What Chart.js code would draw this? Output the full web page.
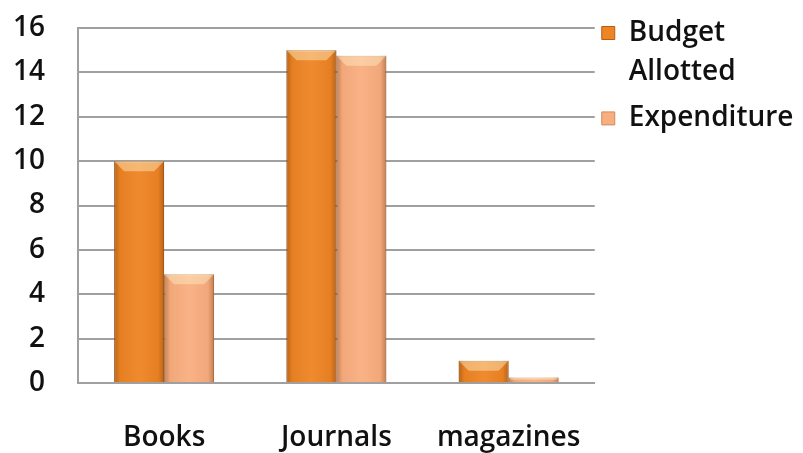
<!DOCTYPE html>
<html>
<head>
<meta charset="utf-8">
<script src="https://cdn.jsdelivr.net/npm/chart.js@4.4.1/dist/chart.umd.min.js"></script>
<style>
  html, body { margin: 0; padding: 0; background: #fff; }
  #wrap { width: 803px; height: 453px; }
</style>
</head>
<body>
<div id="wrap"><canvas id="budgetChart" width="803" height="453"></canvas></div>
<script>
// values
const categories = ["Books", "Journals", "magazines"];
const budgetAllotted = [10, 15, 1];
const expenditure = [4.9, 14.75, 0.25];
const yTicks = [0, 2, 4, 6, 8, 10, 12, 14, 16];

const FONT = "'Open Sans', Lato, sans-serif";
const textFont = { family: FONT, size: 28, weight: "600" };

// gives the bars a bevelled look, drawn on top of each bar element
const bevelPlugin = {
  id: "bevel",
  afterDatasetsDraw(chart) {
    const ctx = chart.ctx;
    chart.data.datasets.forEach((ds, i) => {
      const meta = chart.getDatasetMeta(i);
      meta.data.forEach((bar) => {
        const left = bar.x - bar.width / 2;
        const w = bar.width;
        const top = bar.y;
        const h = bar.base - bar.y;
        if (h <= 0) return;
        ctx.save();
        const g = ctx.createLinearGradient(left, 0, left + w, 0);
        g.addColorStop(0, "rgba(90,40,0,0.35)");
        g.addColorStop(0.12, "rgba(90,40,0,0.05)");
        g.addColorStop(0.5, "rgba(255,255,255,0.05)");
        g.addColorStop(0.88, "rgba(90,40,0,0.05)");
        g.addColorStop(1, "rgba(90,40,0,0.35)");
        ctx.fillStyle = g;
        ctx.fillRect(left, top, w, h);
        // light trapezoid on the top face
        const bev = Math.min(10, h / 2);
        ctx.beginPath();
        ctx.moveTo(left, top);
        ctx.lineTo(left + w, top);
        ctx.lineTo(left + w - bev, top + bev);
        ctx.lineTo(left + bev, top + bev);
        ctx.closePath();
        ctx.fillStyle = "rgba(255,240,200,0.45)";
        ctx.fill();
        ctx.restore();
      });
    });
  },
};

const ctx = document.getElementById("budgetChart").getContext("2d");
new Chart(ctx, {
  type: "bar",
  data: {
    labels: categories,
    datasets: [
      {
        label: ["Budget", "Allotted"],
        data: budgetAllotted,
        backgroundColor: "#ee8424",
        borderColor: "#b45e18",
        borderWidth: 1,
      },
      {
        label: "Expenditure",
        data: expenditure,
        backgroundColor: "#f9ae80",
        borderColor: "#cf8a60",
        borderWidth: 1,
      },
    ],
  },
  options: {
    responsive: false,
    animation: false,
    layout: { padding: { left: 0, top: 12, right: 10, bottom: 0 } },
    datasets: {
      bar: { categoryPercentage: 0.58, barPercentage: 1.0 },
    },
    plugins: {
      legend: {
        position: "right",
        align: "start",
        labels: {
          font: { ...textFont, lineHeight: 1.4 },
          color: "#111",
          boxWidth: 13,
          boxHeight: 13,
          padding: 7,
        },
      },
      tooltip: { enabled: false },
    },
    scales: {
      x: {
        grid: { display: false },
        border: { display: true, color: "#a0a0a0", width: 2 },
        ticks: { font: textFont, color: "#111", padding: 30 },
        afterFit: (scale) => {
          scale.height = 70;
        },
      },
      y: {
        min: 0,
        max: 16,
        afterBuildTicks: (axis) => {
          axis.ticks = yTicks.map((v) => ({ value: v }));
        },
        grid: { color: "#a0a0a0", lineWidth: 2, drawTicks: false },
        border: { display: true, color: "#a0a0a0", width: 2 },
        ticks: { font: textFont, color: "#111", padding: 33 },
        afterFit: (scale) => {
          scale.width = 78;
          scale.paddingTop = 28;
          scale.paddingBottom = 0;
        },
      },
    },
  },
  plugins: [bevelPlugin],
});
</script>
</body>
</html>
